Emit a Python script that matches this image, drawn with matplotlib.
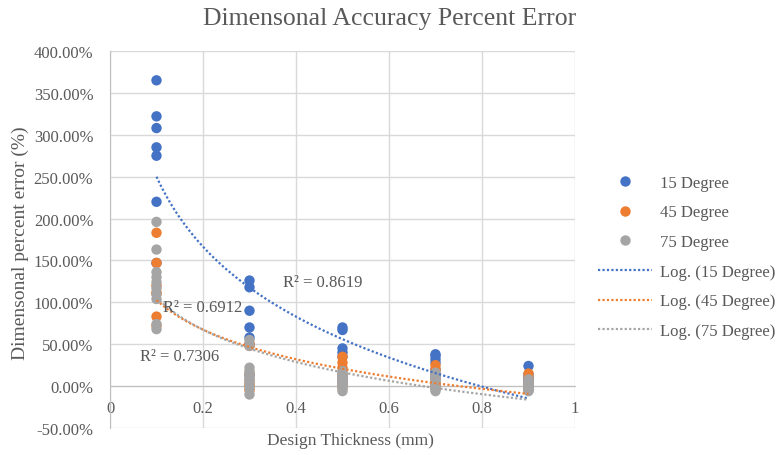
import numpy as np
import matplotlib
matplotlib.use('Agg')
import matplotlib.pyplot as plt
from matplotlib.lines import Line2D
from matplotlib.ticker import FuncFormatter

plt.rcParams['font.family'] = ['Liberation Serif', 'DejaVu Serif']

# design thickness (mm) and percent error (fraction) per series
thickness = [0.1, 0.3, 0.5, 0.7, 0.9]

err_15 = [
    [3.65, 3.22, 3.08, 2.85, 2.75, 2.20, 1.47],
    [1.26, 1.18, 0.90, 0.70, 0.58, 0.50, 0.13],
    [0.70, 0.67, 0.45, 0.40, 0.35, 0.12, 0.06],
    [0.38, 0.36, 0.32, 0.28, 0.20, 0.14, 0.10],
    [0.24, 0.14, 0.10, 0.08, 0.06, 0.05, 0.03],
]
err_45 = [
    [1.83, 1.47, 1.20, 1.12, 1.10, 0.83, 0.72],
    [0.50, 0.48, 0.15, 0.08, 0.03, 0.00, -0.05],
    [0.35, 0.28, 0.22, 0.15, 0.08, 0.03, -0.01],
    [0.25, 0.20, 0.15, 0.08, 0.03, 0.00, -0.02],
    [0.15, 0.10, 0.05, 0.02, 0.00, -0.03, -0.04],
]
err_75 = [
    [1.96, 1.63, 1.36, 1.30, 1.24, 1.17, 1.10, 1.04, 0.74, 0.68],
    [0.55, 0.48, 0.22, 0.18, 0.14, 0.10, 0.06, 0.02, -0.03, -0.10],
    [0.18, 0.15, 0.12, 0.09, 0.06, 0.04, 0.02, 0.00, -0.03, -0.06],
    [0.16, 0.13, 0.10, 0.07, 0.05, 0.03, 0.01, -0.02, -0.04, -0.06],
    [0.08, 0.06, 0.04, 0.02, 0.00, -0.01, -0.03, -0.04, -0.05, -0.06],
]

series_names = ['15 Degree', '45 Degree', '75 Degree']
colors = ['#4472C4', '#ED7D31', '#A5A5A5']
r2_labels = ['R² = 0.8619', 'R² = 0.6912', 'R² = 0.7306']
r2_pos = [(0.372, 1.24), (0.114, 0.94), (0.065, 0.36)]

fig = plt.figure(figsize=(7.78, 4.56), dpi=100)
ax = fig.add_axes([110 / 778, 1 - 429 / 456, 465 / 778, 377 / 456])

grid_c = '#D9D9D9'
text_c = '#595959'

handles = []
for name, data, c in zip(series_names, [err_15, err_45, err_75], colors):
    xs = np.concatenate([[t] * len(v) for t, v in zip(thickness, data)])
    ys = np.concatenate(data)
    ax.scatter(xs, ys, s=56, color=c, edgecolors='none', zorder=3)
    handles.append(Line2D([], [], marker='o', color=c, linestyle='none',
                          markersize=7.5, markeredgewidth=0, label=name))

# logarithmic trend lines
for name, data, c in zip(series_names, [err_15, err_45, err_75], colors):
    xs = np.concatenate([[t] * len(v) for t, v in zip(thickness, data)])
    ys = np.concatenate(data)
    a, b = np.polyfit(np.log(xs), ys, 1)
    xx = np.linspace(min(thickness), max(thickness), 200)
    ax.plot(xx, a * np.log(xx) + b, linestyle=(0, (1, 1)), lw=1.6,
            color=c, zorder=4)
    handles.append(Line2D([], [], linestyle=(0, (1, 1)), lw=1.6, color=c,
                          label='Log. (%s)' % name))

for txt, (x, y) in zip(r2_labels, r2_pos):
    ax.text(x, y, txt, fontsize=12, color=text_c, va='center', zorder=5)

ax.set_xlim(0, 1)
ax.set_ylim(-0.5, 4.0)
ax.set_xticks([0, 0.2, 0.4, 0.6, 0.8, 1.0])
ax.set_yticks(np.arange(-0.5, 4.01, 0.5))
ax.xaxis.set_major_formatter(FuncFormatter(lambda v, p: '%g' % v))
ax.yaxis.set_major_formatter(FuncFormatter(lambda v, p: '%.2f%%' % (v * 100)))
ax.grid(True, color=grid_c, lw=1)
ax.set_axisbelow(True)
for s in ['top', 'right']:
    ax.spines[s].set_visible(False)
ax.spines['bottom'].set_position(('data', 0))
ax.spines['bottom'].set_color('#BFBFBF')
ax.spines['left'].set_color('#BFBFBF')
ax.tick_params(length=0, labelsize=12, labelcolor=text_c)
ax.tick_params(axis='y', pad=12)
ax.tick_params(axis='x', pad=10)

fig.text(390 / 778, 1 - 19 / 456, 'Dimensonal Accuracy Percent Error',
         ha='center', va='center', fontsize=18.5, color=text_c)
fig.text(350 / 778, 1 - 441 / 456, 'Design Thickness (mm)',
         ha='center', va='center', fontsize=12.5, color=text_c)
fig.text(20 / 778, 1 - 243 / 456, 'Dimensonal percent error (%)',
         ha='center', va='center', rotation=90, fontsize=14, color=text_c)

fig.legend(handles=handles, loc='center left',
           bbox_to_anchor=(598 / 778, 1 - 258 / 456), frameon=False,
           fontsize=12, labelcolor=text_c, handlelength=3.25,
           handletextpad=0.45, labelspacing=0.82, borderpad=0,
           borderaxespad=0)

fig.savefig('out.png', dpi=100)
